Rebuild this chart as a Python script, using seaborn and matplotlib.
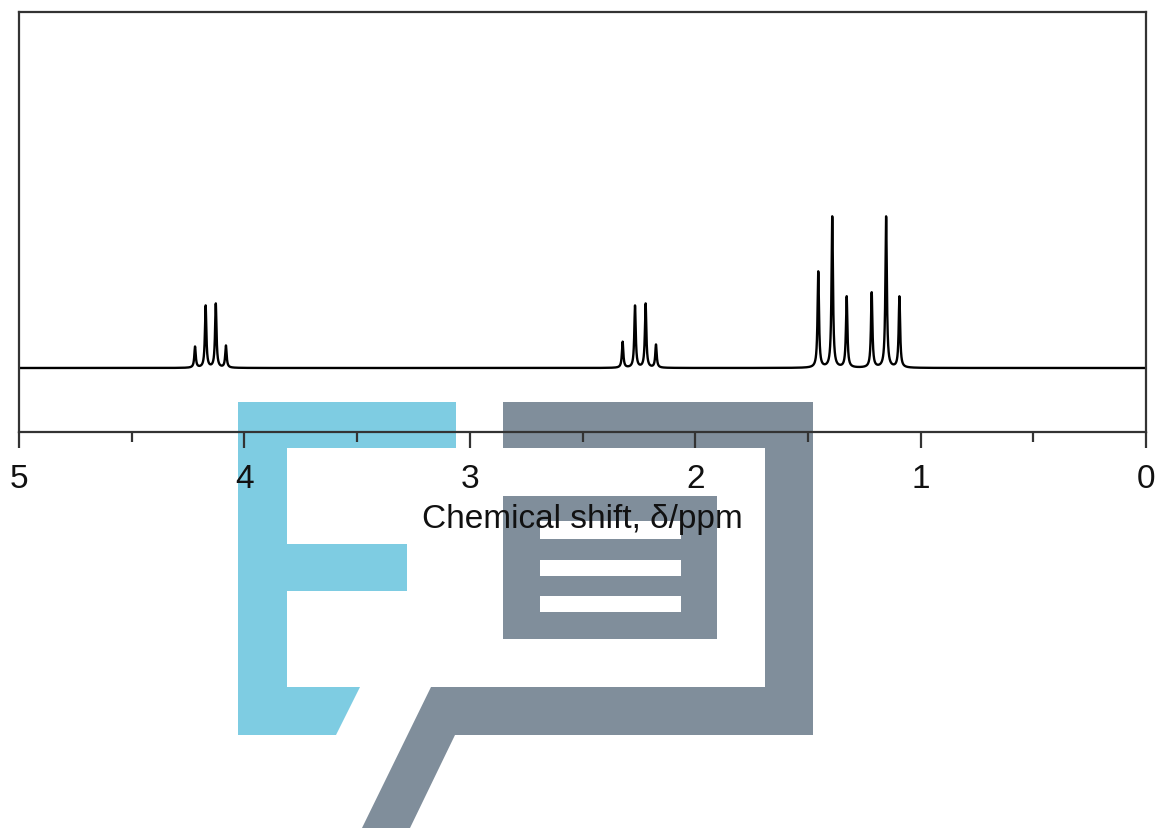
import numpy as np
import pandas as pd
import matplotlib
matplotlib.use("Agg")
import matplotlib.pyplot as plt
from matplotlib.patches import Polygon
import seaborn as sns

# ---- data: 1H NMR peaks (chemical shift in ppm, relative intensity) ----
peak_ppm = [4.219, 4.172, 4.127, 4.082,          # quartet ~4.15
            2.322, 2.267, 2.220, 2.174,          # quartet ~2.25
            1.454, 1.392, 1.328,                 # triplet ~1.39
            1.217, 1.153, 1.094]                 # triplet ~1.15
peak_height = [21, 62, 64, 22,
               26, 62, 64, 23,
               96, 151, 71,
               75, 151, 71]
line_hwhm = 0.0038          # Lorentzian half width (ppm)
x_ticks = [5, 4, 3, 2, 1, 0]
x_label = "Chemical shift, δ/ppm"

# ---- spectrum built from the peak list (sum of Lorentzian lines) ----
shift = np.linspace(5.0, 0.0, 40001)
intensity = np.zeros_like(shift)
for p, h in zip(peak_ppm, peak_height):
    intensity += h * line_hwhm**2 / ((shift - p) ** 2 + line_hwhm**2)
df = pd.DataFrame({"shift": shift, "intensity": intensity})

sns.set_style("ticks")
plt.rcParams["font.family"] = ["Liberation Sans", "DejaVu Sans"]

W, H = 1157, 829
fig = plt.figure(figsize=(W / 100, H / 100), dpi=100)
fig.patch.set_facecolor("white")

# ---- watermark logo (decoration, figure pixel coordinates) ----
def px(points):
    return [(x / W, 1 - y / H) for x, y in points]

blue = "#7eccE2"
grey = "#808e9b"
logo_E = [(238, 403), (456, 403), (456, 449), (287, 449), (287, 545), (407, 545),
          (407, 592), (287, 592), (287, 688), (360, 688), (336, 736), (238, 736)]
logo_bubble = [(503, 403), (813, 403), (813, 736), (455, 736), (410, 829),
               (362, 829), (431, 688), (765, 688), (765, 449), (503, 449)]
logo_doc = [(503, 497), (717, 497), (717, 640), (503, 640)]
logo_bars = [(522, 540), (561, 577), (597, 613)]
for pts, c in [(logo_E, blue), (logo_bubble, grey), (logo_doc, grey)]:
    fig.patches.append(Polygon(px(pts), closed=True, transform=fig.transFigure,
                               facecolor=c, edgecolor="none", zorder=-2))
for y0, y1 in logo_bars:
    fig.patches.append(Polygon(px([(540, y0), (681, y0), (681, y1), (540, y1)]),
                               closed=True, transform=fig.transFigure,
                               facecolor="white", edgecolor="none", zorder=-1))

# ---- axes ----
ax = fig.add_axes([19 / W, (H - 433) / H, (1146 - 19) / W, 420 / H])
ax.set_facecolor("none")
sns.lineplot(data=df, x="shift", y="intensity", ax=ax, color="black",
             linewidth=1.7, sort=False, estimator=None)

ax.set_xlim(5, 0)
ax.set_ylim(-64, 356)
ax.set_xticks(x_ticks)
ax.set_xticklabels([str(t) for t in x_ticks])
ax.set_xticks(np.arange(0.5, 5, 1.0), minor=True)
ax.set_yticks([])
ax.set_ylabel("")
ax.set_xlabel(x_label, fontsize=24, color="#111111", labelpad=7)

for s in ax.spines.values():
    s.set_visible(True)
    s.set_linewidth(1.6)
    s.set_color("#333333")

ax.tick_params(axis="x", which="major", direction="out", length=11.5, width=1.6,
               color="#333333", labelsize=24, labelcolor="#111111", pad=10.5)
ax.tick_params(axis="x", which="minor", direction="out", length=7, width=1.6,
               color="#333333")

fig.savefig("out.png", dpi=100, facecolor="white")
